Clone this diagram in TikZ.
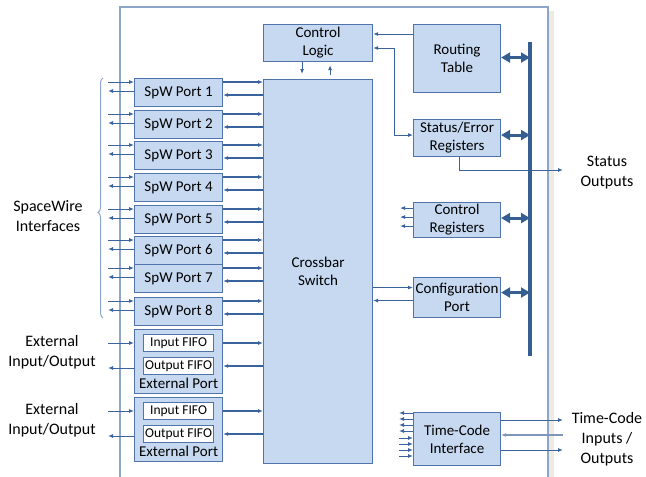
\documentclass[tikz,border=0pt]{standalone}
\usepackage{fontspec}
\setmainfont{Carlito}
\usepackage{tikz}
\usetikzlibrary{positioning, calc, arrows.meta, decorations.pathreplacing}
\definecolor{boxfill}{RGB}{198,217,241}
\definecolor{boxline}{RGB}{79,115,170}
\definecolor{arrowc}{RGB}{58,98,156}
\definecolor{busc}{RGB}{54,95,145}
\definecolor{framec}{RGB}{140,165,200}
\definecolor{lightc}{RGB}{125,150,185}
\definecolor{shadowc}{RGB}{238,236,225}

\begin{document}
\begin{tikzpicture}[
        x=1pt, y=-1pt,
        blk/.style={draw=boxline, fill=boxfill, line width=1.1pt, inner sep=0pt, align=center,
            anchor=north west, font=\fontsize{15}{18}\selectfont},
        fifo/.style={draw=boxline, fill=white, line width=1pt, minimum width=70pt, minimum height=17pt,
            inner sep=0pt, font=\fontsize{13.5}{15}\selectfont},
        lbl/.style={align=center, inner sep=0pt, font=\fontsize{16}{20}\selectfont},
        link/.style={draw=arrowc, line width=1pt, -{Latex[length=5pt,width=4pt]}},
        wide/.style={link, line width=1.6pt},
        busarrow/.style={draw=busc, line width=3pt, {Triangle[length=9pt,width=10pt]}-{Triangle[length=9pt,width=10pt]}},
    ]

    \useasboundingbox (0,0) rectangle (646,477);
    \fill[shadowc] (549,11) rectangle (554,477);
    \draw[framec, line width=1.2pt] (120,477) -- (120,7) -- (548,7) -- (548,477);

    \node[blk, minimum width=109pt, minimum height=37pt] (logic) at (263,24) {Control\\Logic};
    \node[blk, minimum width=109pt, minimum height=384pt] (xbar) at (263,79) {Crossbar\\Switch};
    \node[blk, minimum width=87pt, minimum height=68pt] (route) at (413,24) {Routing\\Table};
    \node[blk, minimum width=87pt, minimum height=37pt] (status) at (413,119) {Status/Error\\Registers};
    \node[blk, minimum width=87pt, minimum height=35pt] (ctrl) at (413,202) {Control\\Registers};
    \node[blk, minimum width=87pt, minimum height=40pt] (config) at (413,277) {Configuration\\Port};
    \node[blk, minimum width=87pt, minimum height=53pt] (tcode) at (413,412) {Time-Code\\Interface};

    \foreach \i/\t in {1/78,2/110,3/141,4/173,5/205,6/236,7/264,8/297} {
        \node[blk, minimum width=88pt, minimum height=28pt] (port\i) at (134,\t) {SpW Port \i};
        \draw[link] ($(port\i.north west)+(-26,4)$) -- ($(port\i.north west)+(0,4)$);
        \draw[link] ($(port\i.north west)+(0,13)$) -- ++(-26,0);
        \draw[wide] ($(port\i.north east)+(0,4)$) -- ($(port\i.north east -| xbar.west)+(0,4)$);
        \draw[wide] ($(port\i.north east -| xbar.west)+(0,17)$) -- ($(port\i.north east)+(0,17)$);
    }

    \draw[framec, line width=1pt, decorate, decoration={brace, amplitude=5pt, aspect=0.44}]
        (103,318) -- (103,78);
    \node[lbl] (spw) at (48,216) {SpaceWire\\Interfaces};

    \foreach \i/\t in {1/329,2/397} {
        \node[blk, minimum width=88pt, minimum height=64pt] (ext\i) at (134,\t) {};
        \node[fifo] (in\i) at ($(ext\i.north)+(0,14)$) {Input FIFO};
        \node[fifo] (out\i) at ($(ext\i.north)+(0,37)$) {Output FIFO};
        \node[lbl, anchor=base, font=\fontsize{15}{18}\selectfont] (extname\i) at ($(ext\i.south)+(0,-6)$) {External Port};
        \node[lbl] (extio\i) at ($(ext\i.west)+(-82,-9)$) {External\\Input/Output};
        \draw[link] ($(in\i -| ext\i.west)+(-26,0)$) -- (in\i -| ext\i.west);
        \draw[link] ($(out\i -| ext\i.west)+(0,2)$) -- ++(-26,0);
        \draw[wide] (in\i -| ext\i.east) -- (in\i -| xbar.west);
        \draw[wide] (out\i -| xbar.west) -- (out\i -| ext\i.east);
    }

    \draw[link] ($(logic.south)+(-16,0)$) -- ($(xbar.north)+(-16,-5)$);
    \draw[link] ($(xbar.north)+(12,-4)$) -- ($(logic.south)+(12,3)$);
    \draw[link] ($(route.north west)+(0,10)$) -- ($(route.north west -| logic.east)+(0,10)$);
    \draw[link, {Latex[length=5pt,width=4pt]}-{Latex[length=5pt,width=4pt]}]
        ($(logic.north east)+(0,24)$) -- ++(21,0) |- ($(status.west)+(0,-3)$);

    \node[lbl] (statout) at (607,173) {Status\\Outputs};
    \coordinate (statend) at (563,170);
    \draw[link] ($(status.south)+(2,0)$) |- (statend);

    \coordinate (bustop) at (530,42);
    \coordinate (busbot) at (530,356);
    \draw[busc, line width=4pt] (bustop) -- (busbot);
    \foreach \n/\dy in {route/-1, status/-3, ctrl/-2, config/-5}
        \draw[busarrow] ($(\n.east)+(0,\dy)$) -- ($(\n.east -| bustop)+(0,\dy)$);

    \foreach \dy in {-12,-3,6}
        \draw[link] ($(ctrl.west)+(0,\dy)$) -- ++(-13,0);

    \draw[wide] ($(config.west -| xbar.east)+(0,-10)$) -- ($(config.west)+(0,-10)$);
    \draw[wide] ($(config.west)+(0,3)$) -- ($(config.west -| xbar.east)+(0,3)$);

    \foreach \dy in {1,7,13,19}
        \draw[link] ($(tcode.north west)+(0,\dy)$) -- ++(-14,0);
    \foreach \dy in {26,32,38,44}
        \draw[link] ($(tcode.north west)+(-14,\dy)$) -- ++(14,0);

    \node[lbl] (tcio) at (607,439) {Time-Code\\Inputs /\\Outputs};
    \coordinate (tcend) at (563,0);
    \draw[link] ($(tcode.north east)+(0,8)$) -- ($(tcode.north east -| tcend)+(0,8)$);
    \draw[link, draw=lightc, line width=1.3pt] ($(tcode.north east -| tcend)+(0,23)$) -- ($(tcode.north east)+(0,23)$);
    \draw[link] ($(tcode.north east)+(0,38)$) -- ($(tcode.north east -| tcend)+(0,38)$);

\end{tikzpicture}
\end{document}
